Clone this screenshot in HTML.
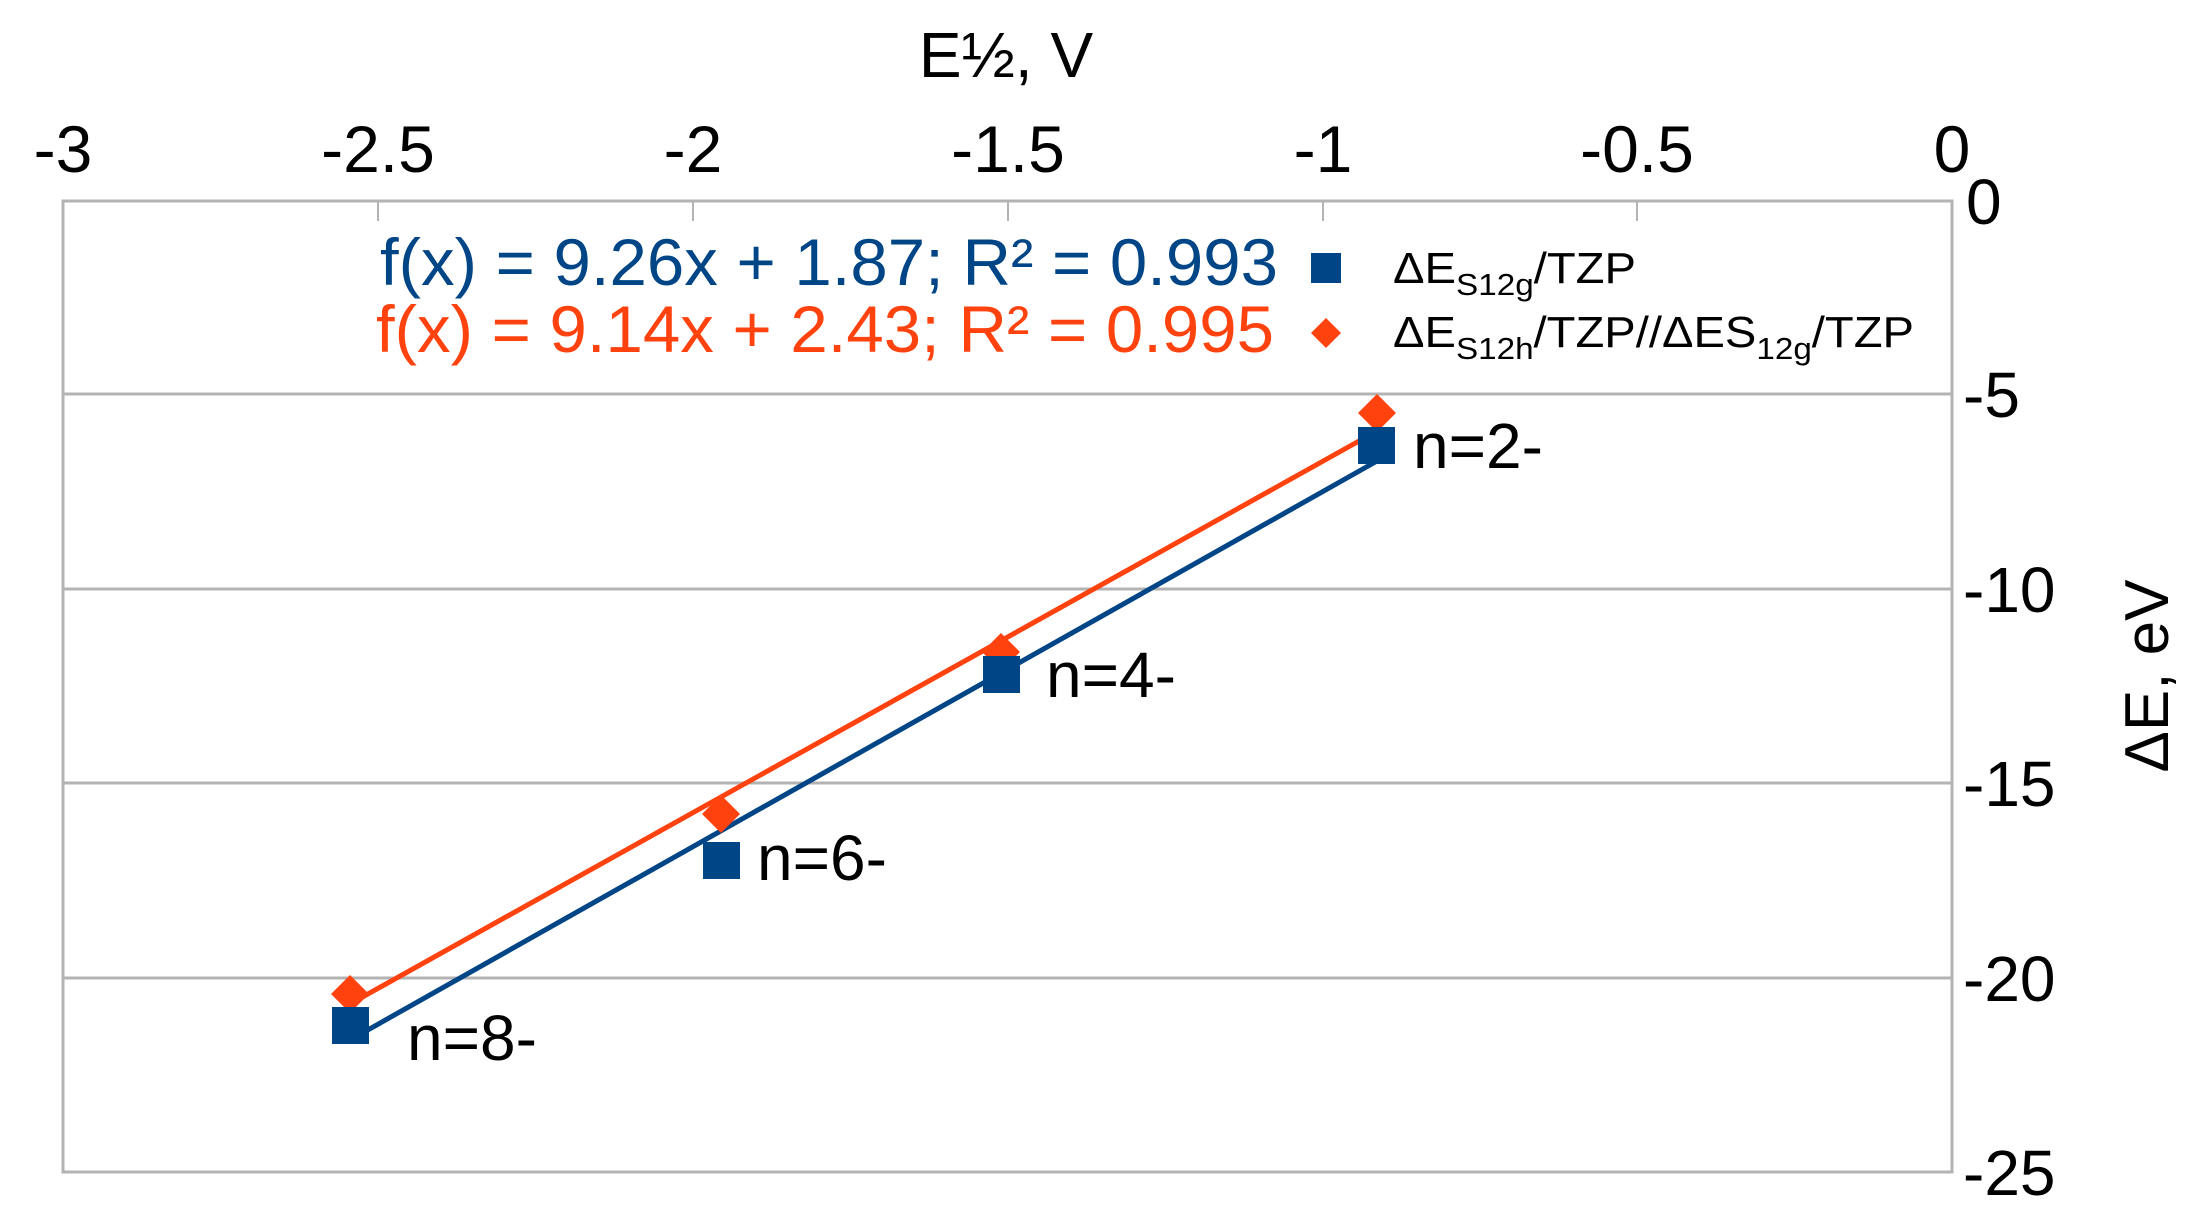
<!DOCTYPE html>
<html><head><meta charset="utf-8"><style>
html,body{margin:0;padding:0;background:#fff;}
svg{display:block;}
text{font-family:"Liberation Sans",sans-serif;}
</style></head><body>
<svg width="2207" height="1224" viewBox="0 0 2207 1224" xmlns="http://www.w3.org/2000/svg">
<rect width="2207" height="1224" fill="#fff"/>
<g stroke="#b3b3b3" stroke-width="3">
<line x1="63" y1="394" x2="1952" y2="394"/>
<line x1="63" y1="589" x2="1952" y2="589"/>
<line x1="63" y1="783" x2="1952" y2="783"/>
<line x1="63" y1="978" x2="1952" y2="978"/>
</g>
<rect x="63" y="201" width="1889" height="971" fill="none" stroke="#b3b3b3" stroke-width="3"/>
<g stroke="#b3b3b3" stroke-width="2">
<line x1="378" y1="201" x2="378" y2="221"/>
<line x1="693" y1="201" x2="693" y2="221"/>
<line x1="1008" y1="201" x2="1008" y2="221"/>
<line x1="1323" y1="201" x2="1323" y2="221"/>
<line x1="1637" y1="201" x2="1637" y2="221"/>
</g>
<g font-size="66" text-anchor="middle" fill="#000">
<text x="63" y="172">-3</text>
<text x="378" y="172">-2.5</text>
<text x="693" y="172">-2</text>
<text x="1008" y="172">-1.5</text>
<text x="1323" y="172">-1</text>
<text x="1637" y="172">-0.5</text>
<text x="1952" y="172">0</text>
</g>
<text x="1006" y="77" font-size="64" text-anchor="middle">E½, V</text>
<g font-size="64" fill="#000">
<text x="1966" y="224">0</text>
<text x="1963" y="417">-5</text>
<text x="1963" y="612">-10</text>
<text x="1963" y="806">-15</text>
<text x="1963" y="1001">-20</text>
<text x="1963" y="1195">-25</text>
</g>
<text transform="translate(2168,676) rotate(-90)" font-size="62" text-anchor="middle">ΔE, eV</text>
<line x1="350" y1="1040" x2="1377" y2="461" stroke="#004586" stroke-width="5"/>
<line x1="350" y1="1004" x2="1377" y2="431" stroke="#ff420e" stroke-width="5"/>
<g fill="#ff420e">
<polygon points="1377,394 1396,413 1377,432 1358,413"/>
<polygon points="1001,633 1020,652 1001,671 982,652"/>
<polygon points="721,795 740,814 721,833 702,814"/>
<polygon points="350,975 369,994 350,1013 331,994"/>
</g>
<g fill="#004586">
<rect x="1358" y="427" width="37" height="37"/>
<rect x="983" y="656" width="37" height="37"/>
<rect x="703" y="842" width="37" height="37"/>
<rect x="332" y="1007" width="37" height="37"/>
</g>
<g font-size="64" fill="#000">
<text x="1413" y="468">n=2-</text>
<text x="1046" y="697">n=4-</text>
<text x="757" y="880">n=6-</text>
<text x="407" y="1060">n=8-</text>
</g>
<text x="380" y="285" font-size="66" fill="#004586" textLength="898" lengthAdjust="spacingAndGlyphs">f(x) = 9.26x + 1.87; R² = 0.993</text>
<text x="376" y="352" font-size="66" fill="#ff420e" textLength="898" lengthAdjust="spacingAndGlyphs">f(x) = 9.14x + 2.43; R² = 0.995</text>
<rect x="1311" y="253" width="30" height="30" fill="#004586"/>
<polygon points="1326,318 1341,333 1326,348 1311,333" fill="#ff420e"/>
<text x="1393" y="283" font-size="44" fill="#000" textLength="243" lengthAdjust="spacingAndGlyphs">ΔE<tspan font-size="31" dy="12">S12g</tspan><tspan dy="-12">/TZP</tspan></text>
<text x="1393" y="347" font-size="44" fill="#000" textLength="521" lengthAdjust="spacingAndGlyphs">ΔE<tspan font-size="31" dy="12">S12h</tspan><tspan dy="-12">/TZP//ΔES</tspan><tspan font-size="31" dy="12">12g</tspan><tspan dy="-12">/TZP</tspan></text>
</svg>
</body></html>
